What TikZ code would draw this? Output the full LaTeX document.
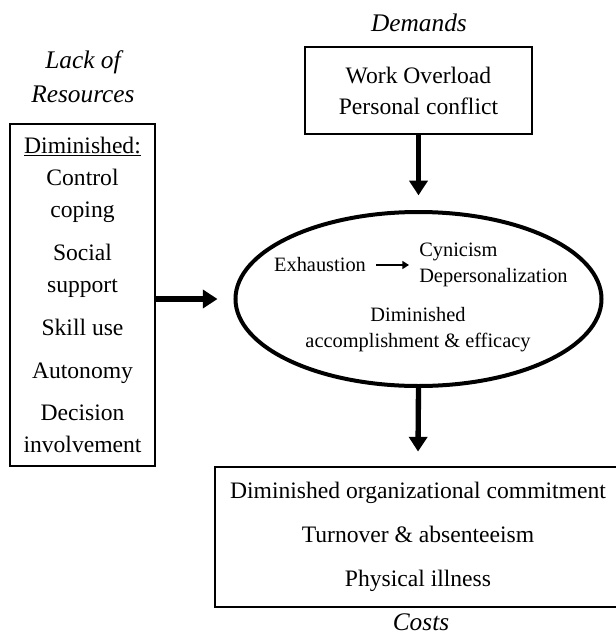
\documentclass[tikz,border=0pt]{standalone}
\usepackage{fontspec}
\setmainfont{Liberation Serif}
\usetikzlibrary{shapes.geometric,arrows.meta,positioning}
\tikzset{
  every picture/.style={font={\fontsize{17.7}{23.3}\selectfont}, >={Triangle[width=13.5pt,length=11pt]}},
  every node/.style={inner sep=0pt}}

\begin{document}
\begin{tikzpicture}[x=0.75pt, y=-0.75pt,
    framebox/.style={
      draw,
      line width=1.2pt,
      align=center},
    heading/.style={
      font={\fontsize{19}{25.5}\selectfont\itshape},
      align=center},
    innertext/.style={
      font={\fontsize{15.3}{19.5}\selectfont}},
    bigarrow/.style={->, line width=4pt}]

    \clip (0,0) rectangle (616,636);

    % demands
    \node[heading] (demandslabel) at (419,23) {Demands};
    \node[framebox, minimum width=170pt, minimum height=65pt] (demands) at (418.5,90.5)
      {Work Overload\\Personal conflict};

    % resources
    \node[heading] (resourceslabel) at (83,77) {Lack of\\Resources};
    \node[framebox, minimum width=109pt, minimum height=256.5pt,
      font={\fontsize{17.7}{24}\selectfont}] (resources) at (82.5,295)
      {\underline{Diminished:}\\Control\\coping\\[8.2pt]Social\\support\\[8.2pt]Skill use\\[8.2pt]Autonomy\\[8.2pt]Decision\\involvement};

    % burnout
    \node[draw, ellipse, line width=3pt, minimum width=274.5pt, minimum height=130.5pt] (burnout) at (418.5,299) {};
    \node[innertext] (exhaustion) at (320,265) {Exhaustion};
    \node[innertext, align=left, anchor=west] (cynicism) at (419,264.5) {Cynicism\\Depersonalization};
    \node[innertext, align=center] (efficacy) at (418,330) {Diminished\\accomplishment \& efficacy};
    \draw[->, line width=1.2pt, >={Triangle[width=6pt,length=5pt]}]
      ([xshift=7.5pt]exhaustion.east) -- ([xshift=-7.5pt]cynicism.west |- exhaustion.east);

    % costs
    \node[framebox, minimum width=304.5pt, minimum height=105pt,
      font={\fontsize{17.7}{33}\selectfont}] (costs) at (418,537)
      {Diminished organizational commitment\\Turnover \& absenteeism\\Physical illness};
    \node[heading] (costslabel) at (421,622) {Costs};

    \draw[bigarrow] (demands.south) -- ([yshift=11pt]burnout.north);
    \draw[bigarrow] (resources.east |- burnout.west) -- ([xshift=-12pt]burnout.west);
    \draw[bigarrow] (burnout.south) -- ([yshift=11pt]costs.north);
  \end{tikzpicture}
\end{document}
